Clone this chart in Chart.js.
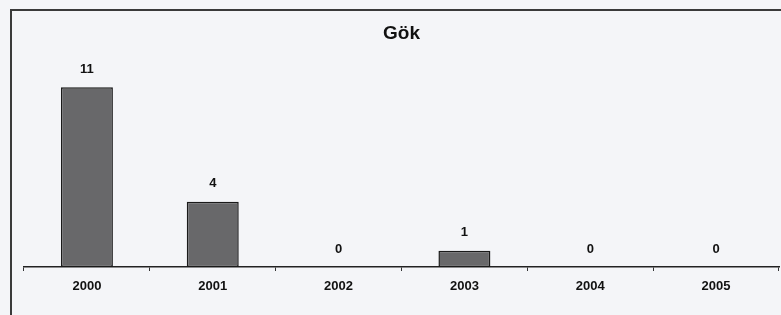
<!DOCTYPE html>
<html>
<head>
<meta charset="utf-8">
<script src="https://cdn.jsdelivr.net/npm/chart.js@4/dist/chart.umd.min.js"></script>
<style>
html,body{margin:0;padding:0;background:#f4f5f8;}
#wrap{width:781px;height:315px;position:relative;}
</style>
</head>
<body>
<div id="wrap"><canvas id="c" width="781" height="315"></canvas></div>
<script>
const titleText = "Gök";
const categories = ["2000", "2001", "2002", "2003", "2004", "2005"];
const values = [11, 4, 0, 1, 0, 0];

const framePlugin = {
  id: 'frame',
  beforeDraw(chart) {
    const ctx = chart.ctx;
    ctx.save();
    ctx.fillStyle = '#f4f5f8';
    ctx.fillRect(0, 0, chart.width, chart.height);
    ctx.strokeStyle = '#3a3a3a';
    ctx.lineWidth = 2;
    ctx.beginPath();
    ctx.moveTo(11, 330);
    ctx.lineTo(11, 10);
    ctx.lineTo(800, 10);
    ctx.stroke();
    ctx.restore();
  },
  afterDraw(chart) {
    const ctx = chart.ctx;
    const area = chart.chartArea;
    ctx.save();
    ctx.fillStyle = '#111';
    ctx.font = 'bold 19px "Liberation Sans", Arial, sans-serif';
    ctx.textAlign = 'center';
    ctx.textBaseline = 'middle';
    ctx.fillText(titleText, (area.left + area.right) / 2, 34);
    ctx.font = 'bold 13px "Liberation Sans", Arial, sans-serif';
    const meta = chart.getDatasetMeta(0);
    meta.data.forEach((bar, i) => {
      ctx.fillText(String(values[i]), bar.x, bar.y - 18);
    });
    ctx.restore();
  }
};

new Chart(document.getElementById('c'), {
  type: 'bar',
  data: {
    labels: categories,
    datasets: [{
      data: values,
      backgroundColor: '#68686a',
      borderColor: '#1a1a1a',
      borderWidth: 1.5,
      borderSkipped: false,
      categoryPercentage: 1,
      barPercentage: 0.413
    }]
  },
  options: {
    responsive: false,
    animation: false,
    devicePixelRatio: 1,
    layout: { padding: { left: 24, right: 2, top: 71, bottom: 0 } },
    plugins: { legend: { display: false }, title: { display: false }, tooltip: { enabled: false } },
    scales: {
      x: {
        afterFit: s => { s.height = 48; },
        border: { display: true, color: '#222', width: 1.5 },
        grid: { offset: true, drawOnChartArea: false, drawTicks: true, tickLength: 4, color: '#333', lineWidth: 1 },
        ticks: { color: '#111', padding: 8, font: { family: '"Liberation Sans", Arial, sans-serif', size: 13, weight: 'bold' } }
      },
      y: {
        display: false,
        min: 0,
        max: 12
      }
    }
  },
  plugins: [framePlugin]
});
</script>
</body>
</html>
